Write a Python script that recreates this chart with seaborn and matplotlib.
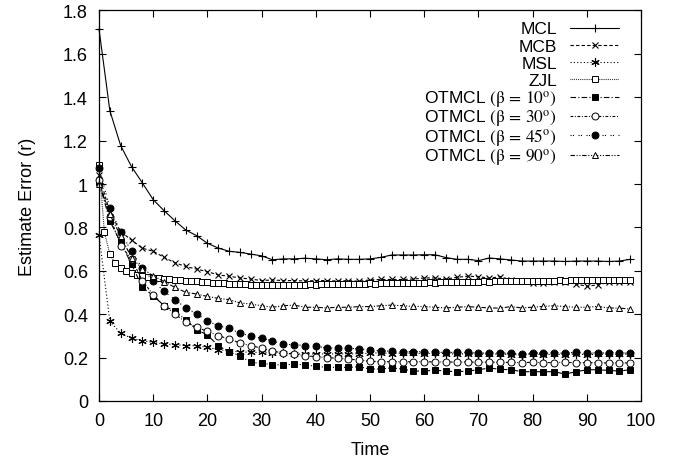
import matplotlib
matplotlib.use("Agg")
import numpy as np
import matplotlib.pyplot as plt
from matplotlib.ticker import FuncFormatter
from matplotlib.lines import Line2D
from matplotlib.legend_handler import HandlerLine2D
import seaborn as sns
import pandas as pd

# ---------------- data ----------------
time_even = list(range(0, 100, 2))
time_all = list(range(0, 99))

mcl = [1.714, 1.338, 1.177, 1.080, 1.005, 0.928, 0.877, 0.831, 0.788, 0.762,
       0.727, 0.705, 0.690, 0.685, 0.677, 0.669, 0.651, 0.655, 0.655, 0.658,
       0.655, 0.651, 0.655, 0.653, 0.653, 0.655, 0.662, 0.673, 0.673, 0.673,
       0.674, 0.674, 0.661, 0.653, 0.653, 0.647, 0.659, 0.655, 0.650, 0.645,
       0.645, 0.645, 0.645, 0.643, 0.645, 0.645, 0.645, 0.643, 0.645, 0.653]

mcb = [1.040, 0.870, 0.780, 0.742, 0.704, 0.690, 0.662, 0.637, 0.620, 0.608,
       0.596, 0.581, 0.575, 0.567, 0.562, 0.555, 0.558, 0.555, 0.555, 0.553,
       0.555, 0.555, 0.553, 0.555, 0.552, 0.558, 0.560, 0.560, 0.560, 0.562,
       0.567, 0.567, 0.562, 0.570, 0.575, 0.573, 0.566, 0.573, 0.558, 0.555,
       0.544, 0.544, 0.548, 0.548, 0.539, 0.529, 0.535, 0.547, 0.547, 0.547]

msl = [0.765, 0.367, 0.313, 0.289, 0.278, 0.270, 0.263, 0.260, 0.255, 0.255,
       0.247, 0.237, 0.230, 0.227, 0.224, 0.224, 0.221, 0.219, 0.217, 0.217,
       0.217, 0.217, 0.217, 0.217, 0.217, 0.221, 0.222, 0.218, 0.221, 0.220,
       0.218, 0.220, 0.218, 0.216, 0.218, 0.215, 0.217, 0.216, 0.214, 0.213,
       0.215, 0.214, 0.215, 0.214, 0.216, 0.214, 0.215, 0.216, 0.215, 0.217]

zjl = [1.090, 0.777, 0.677, 0.634, 0.613, 0.600, 0.590, 0.582, 0.574, 0.570,
       0.567, 0.565, 0.562, 0.560, 0.559, 0.557, 0.555, 0.553, 0.551, 0.550,
       0.548, 0.546, 0.544, 0.543, 0.541, 0.540, 0.539, 0.537, 0.535, 0.534,
       0.533, 0.534, 0.535, 0.534, 0.536, 0.535, 0.536, 0.535, 0.536, 0.537,
       0.536, 0.538, 0.537, 0.539, 0.538, 0.540, 0.539, 0.540, 0.541, 0.540,
       0.542, 0.541, 0.543, 0.542, 0.544, 0.543, 0.545, 0.544, 0.545, 0.546,
       0.545, 0.547, 0.546, 0.548, 0.547, 0.548, 0.549, 0.548, 0.550, 0.549,
       0.550, 0.551, 0.550, 0.552, 0.551, 0.552, 0.553, 0.552, 0.553, 0.554,
       0.553, 0.554, 0.555, 0.554, 0.555, 0.556, 0.555, 0.556, 0.557, 0.556,
       0.557, 0.556, 0.557, 0.558, 0.557, 0.558, 0.557, 0.558, 0.558]

otmcl10 = [1.010, 0.830, 0.731, 0.631, 0.524, 0.485, 0.439, 0.413, 0.375, 0.329,
           0.304, 0.255, 0.227, 0.209, 0.178, 0.174, 0.167, 0.167, 0.169, 0.167,
           0.160, 0.155, 0.155, 0.155, 0.158, 0.147, 0.147, 0.153, 0.147, 0.138,
           0.138, 0.142, 0.138, 0.135, 0.138, 0.144, 0.152, 0.146, 0.144, 0.135,
           0.135, 0.135, 0.135, 0.124, 0.135, 0.144, 0.144, 0.141, 0.138, 0.144]

otmcl30 = [1.020, 0.850, 0.716, 0.654, 0.554, 0.490, 0.440, 0.401, 0.363, 0.340,
           0.321, 0.301, 0.286, 0.267, 0.255, 0.244, 0.230, 0.221, 0.217, 0.209,
           0.204, 0.200, 0.197, 0.193, 0.189, 0.183, 0.181, 0.181, 0.181, 0.181,
           0.181, 0.180, 0.180, 0.179, 0.180, 0.178, 0.180, 0.178, 0.178, 0.177,
           0.178, 0.177, 0.177, 0.178, 0.176, 0.177, 0.176, 0.175, 0.176, 0.175]

otmcl45 = [1.075, 0.890, 0.777, 0.690, 0.611, 0.554, 0.505, 0.467, 0.430, 0.401,
           0.369, 0.347, 0.335, 0.312, 0.300, 0.289, 0.277, 0.261, 0.260, 0.255,
           0.253, 0.244, 0.244, 0.243, 0.240, 0.235, 0.232, 0.229, 0.227, 0.227,
           0.227, 0.224, 0.224, 0.224, 0.224, 0.220, 0.221, 0.220, 0.220, 0.217,
           0.220, 0.221, 0.221, 0.221, 0.224, 0.221, 0.221, 0.221, 0.221, 0.221]

otmcl90 = [1.000, 0.860, 0.760, 0.660, 0.610, 0.577, 0.550, 0.524, 0.501, 0.493,
           0.482, 0.473, 0.467, 0.452, 0.447, 0.439, 0.432, 0.439, 0.442, 0.432,
           0.432, 0.429, 0.432, 0.432, 0.435, 0.435, 0.439, 0.442, 0.439, 0.436,
           0.435, 0.432, 0.429, 0.432, 0.435, 0.432, 0.429, 0.428, 0.435, 0.429,
           0.432, 0.436, 0.439, 0.435, 0.432, 0.432, 0.436, 0.429, 0.428, 0.424]

labels = ["MCL", "MCB", "MSL", "ZJL",
          r"OTMCL $(\mathrm{\beta}\,=\,10^{\mathrm{o}})$",
          r"OTMCL $(\mathrm{\beta}\,=\,30^{\mathrm{o}})$",
          r"OTMCL $(\mathrm{\beta}\,=\,45^{\mathrm{o}})$",
          r"OTMCL $(\mathrm{\beta}\,=\,90^{\mathrm{o}})$"]
x_ticks = [0, 10, 20, 30, 40, 50, 60, 70, 80, 90, 100]
y_ticks = [0, 0.2, 0.4, 0.6, 0.8, 1.0, 1.2, 1.4, 1.6, 1.8]

# ---------------- style ----------------
sns.set_style("ticks")
plt.rcParams["font.family"] = ["Liberation Sans", "DejaVu Sans"]
plt.rcParams["mathtext.fontset"] = "stix"
for k in ["text.color", "axes.labelcolor", "xtick.color", "ytick.color",
          "axes.edgecolor"]:
    plt.rcParams[k] = "black"

fig = plt.figure(figsize=(6.74, 4.60), dpi=100)
ax = fig.add_axes([0.1469, 0.1261, 0.8042, 0.849])

series = [
    (time_even, mcl, dict(marker="+", ms=6, mew=0.8, linestyle="-")),
    (time_even, mcb, dict(marker="x", ms=5, mew=0.8, linestyle=(0, (3, 2)))),
    (time_even, msl, dict(marker=(6, 2, 0), ms=6, mew=0.8, linestyle=(0, (1, 2)))),
    (time_all, zjl, dict(marker="s", ms=5, mew=0.7, mfc="white", linestyle=(0, (0.7, 1)))),
    (time_even, otmcl10, dict(marker="s", ms=5, mew=0.7, mfc="black", linestyle=(0, (5, 2, 1, 2)))),
    (time_even, otmcl30, dict(marker="o", ms=5, mew=0.7, mfc="white", linestyle=(0, (2.5, 1.5, 0.8, 1.5)))),
    (time_even, otmcl45, dict(marker="o", ms=5, mew=0.7, mfc="black", linestyle=(0, (1, 1.2, 1, 4)))),
    (time_even, otmcl90, dict(marker="^", ms=5, mew=0.7, mfc="white", linestyle=(0, (4, 1.5, 1, 1.5, 1, 1.5)))),
]

for (xs, ys, kw), lab in zip(series, labels):
    df = pd.DataFrame({"Time": xs, "Err": ys})
    sns.lineplot(data=df, x="Time", y="Err", ax=ax, color="black", lw=0.8,
                 mec="black", label=lab, clip_on=False, **kw)

ax.set_xlim(0, 100)
ax.set_ylim(0, 1.8)
ax.set_xticks(x_ticks)
ax.set_yticks(y_ticks)
ax.yaxis.set_major_formatter(FuncFormatter(lambda v, p: "%g" % round(v, 2)))
ax.tick_params(direction="in", length=5, width=0.8, top=True, right=True,
               labelsize=13, pad=8, colors="black")
for s in ax.spines.values():
    s.set_linewidth(0.9)
    s.set_color("black")
ax.set_xlabel("Time", fontsize=13, labelpad=8.5)
ax.set_ylabel("Estimate Error (r)", fontsize=13, labelpad=19)


class CenteredLineHandler(HandlerLine2D):
    """Keep the legend sample at the middle of the text line."""
    def create_artists(self, legend, orig_handle, xdescent, ydescent,
                       width, height, fontsize, trans):
        arts = super().create_artists(legend, orig_handle, xdescent, ydescent,
                                      width, height, fontsize, trans)
        for a in arts:
            a.set_ydata(np.full(len(a.get_xdata()), 0.33 * fontsize))
        return arts


handles, labs = ax.get_legend_handles_labels()
leg = ax.legend(handles, labs, loc="upper right", bbox_to_anchor=(0.959, 0.982),
                frameon=False, markerfirst=False, fontsize=12.5,
                handlelength=2.8, handletextpad=0.75, handleheight=1.4,
                labelspacing=-0.16, borderpad=0, borderaxespad=0,
                handler_map={Line2D: CenteredLineHandler()})

fig.savefig("out.png", dpi=100)
